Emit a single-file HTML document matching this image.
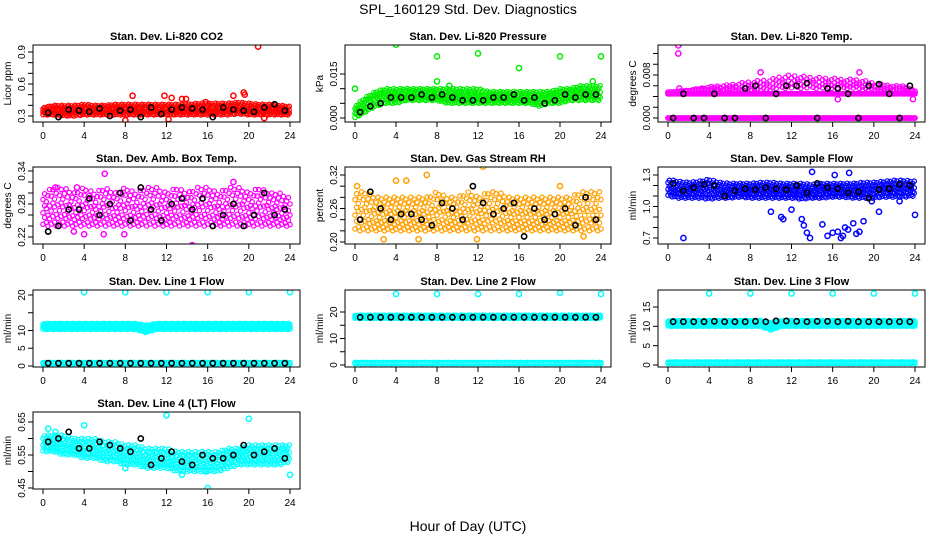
<!DOCTYPE html>
<html><head><meta charset="utf-8"><style>
html,body{margin:0;padding:0;background:#fff;}
svg{display:block;font-family:"Liberation Sans",Arial,sans-serif;}
</style></head><body>
<svg id="chart" width="936" height="540" viewBox="0 0 936 540" xmlns="http://www.w3.org/2000/svg">
<rect width="936" height="540" fill="#fff"/>
<text x="468" y="14" text-anchor="middle" font-size="14">SPL_160129  Std. Dev. Diagnostics</text>
<text x="468" y="531" text-anchor="middle" font-size="14">Hour of Day (UTC)</text>
</svg>
<script>
// ---------- data (hourly band lo/hi at hours 0..24, black samples at hour i+0.5) ----------
const xTicks = [0,4,8,12,16,20,24];

const co2Lo = [0.31,0.31,0.30,0.30,0.31,0.31,0.31,0.31,0.31,0.31,0.31,0.31,0.31,0.31,0.31,0.31,0.31,0.31,0.31,0.32,0.31,0.31,0.31,0.31,0.31];
const co2Hi = [0.38,0.40,0.40,0.40,0.41,0.40,0.40,0.41,0.41,0.41,0.41,0.41,0.41,0.41,0.41,0.42,0.42,0.42,0.42,0.43,0.42,0.41,0.41,0.40,0.39];
const co2Black = [0.33,0.29,0.36,0.35,0.34,0.37,0.30,0.35,0.36,0.29,0.38,0.32,0.36,0.38,0.37,0.36,0.29,0.38,0.36,0.35,0.34,0.38,0.41,0.35];
const co2OutH = [8.7,11.8,12.2,12.5,13.5,13.9,18.5,19.5,19.6,20.9,8.0,21.5,15.8];
const co2OutV = [0.49,0.49,0.27,0.47,0.46,0.46,0.49,0.52,0.50,0.95,0.26,0.28,0.43];

const presLo = [0.000,0.002,0.004,0.005,0.005,0.006,0.006,0.006,0.006,0.005,0.005,0.005,0.005,0.005,0.005,0.005,0.005,0.005,0.004,0.005,0.005,0.006,0.006,0.006,0.006];
const presHi = [0.004,0.007,0.009,0.010,0.010,0.010,0.010,0.010,0.010,0.010,0.010,0.010,0.010,0.009,0.009,0.009,0.009,0.009,0.009,0.009,0.010,0.010,0.011,0.011,0.011];
const presBlack = [0.002,0.004,0.005,0.007,0.007,0.007,0.008,0.007,0.008,0.007,0.006,0.006,0.006,0.007,0.007,0.008,0.006,0.007,0.005,0.006,0.008,0.007,0.008,0.008];
const presOutH = [0,4,8,12,16,20,24,8,23.2,9.2];
const presOutV = [0.010,0.025,0.021,0.022,0.017,0.021,0.021,0.0125,0.0125,0.011];

const tmpLo = [0.0045,0.0045,0.0045,0.0045,0.0045,0.0045,0.0045,0.0045,0.0045,0.0045,0.0045,0.0045,0.0045,0.0045,0.0045,0.0045,0.0045,0.0045,0.0045,0.0045,0.0045,0.0045,0.0045,0.0045,0.0045];
const tmpHi = [0.0045,0.0045,0.0045,0.0045,0.0045,0.0045,0.0045,0.0045,0.0045,0.0045,0.0045,0.0045,0.0045,0.0045,0.0045,0.0045,0.0045,0.0045,0.0045,0.0045,0.0045,0.0045,0.0045,0.0045,0.0045];
const tmpUpLo = [0.0048,0.0048,0.0048,0.0050,0.0050,0.0050,0.0050,0.0050,0.0050,0.0050,0.0052,0.0055,0.0055,0.0055,0.0055,0.0055,0.0055,0.0055,0.0055,0.0052,0.0050,0.0050,0.0050,0.0050,0.0048];
const tmpUpHi = [0.0048,0.0050,0.0052,0.0055,0.0058,0.0060,0.0062,0.0065,0.0068,0.0070,0.0072,0.0078,0.0080,0.0078,0.0076,0.0075,0.0074,0.0072,0.0072,0.0070,0.0065,0.0062,0.0060,0.0060,0.0050];
const tmpZeroLo = [0,0,0,0,0,0,0,0,0,0,0,0,0,0,0,0,0,0,0,0,0,0,0,0,0];
const tmpZeroHi = [0,0,0,0,0,0,0,0,0,0,0,0,0,0,0,0,0,0,0,0,0,0,0,0,0];
const tmpBlack = [0.0000,0.0045,0.0000,0.0000,0.0045,0.0000,0.0000,0.0055,0.0060,0.0000,0.0045,0.0060,0.0060,0.0065,0.0000,0.0055,0.0055,0.0045,0.0000,0.0060,0.0063,0.0045,0.0000,0.0060];
const tmpOutH = [1.0,1.0,1.0,1.1,16.5,23.8,9.0,18.6];
const tmpOutV = [0.0145,0.0135,0.0120,0.0055,0.0035,0.0035,0.0085,0.0085];

const ambLo = [0.24,0.24,0.24,0.24,0.24,0.24,0.24,0.24,0.24,0.24,0.24,0.24,0.24,0.24,0.24,0.24,0.24,0.24,0.24,0.24,0.24,0.24,0.24,0.24,0.24];
const ambHi = [0.30,0.31,0.31,0.30,0.31,0.30,0.31,0.30,0.31,0.30,0.31,0.31,0.30,0.31,0.30,0.31,0.31,0.30,0.31,0.31,0.30,0.31,0.30,0.30,0.29];
const ambBlack = [0.23,0.24,0.27,0.27,0.29,0.26,0.28,0.30,0.25,0.31,0.27,0.25,0.28,0.29,0.27,0.29,0.24,0.26,0.28,0.24,0.26,0.30,0.26,0.27];
const ambOutH = [6.0,14.5,18.5,0.5,4.0,7.9,1.2,3.3,5.9,3.0];
const ambOutV = [0.335,0.205,0.32,0.23,0.225,0.225,0.31,0.31,0.225,0.23];

const rhLo = [0.22,0.22,0.22,0.22,0.22,0.22,0.22,0.22,0.22,0.22,0.22,0.22,0.22,0.22,0.22,0.22,0.22,0.22,0.22,0.22,0.22,0.22,0.22,0.22,0.22];
const rhHi = [0.29,0.29,0.28,0.28,0.28,0.28,0.28,0.28,0.29,0.28,0.28,0.29,0.28,0.29,0.29,0.28,0.28,0.28,0.28,0.28,0.28,0.28,0.29,0.29,0.29];
const rhBlack = [0.24,0.29,0.26,0.24,0.25,0.25,0.24,0.23,0.27,0.26,0.24,0.30,0.27,0.25,0.26,0.27,0.21,0.26,0.24,0.25,0.26,0.23,0.28,0.24];
const rhOutH = [12.5,7.0,4.0,5.0,20.0,0.2,2.8,6.2,11.9,22.3];
const rhOutV = [0.335,0.32,0.31,0.31,0.30,0.30,0.205,0.205,0.205,0.21];

const flowLo = [1.10,1.08,1.08,1.08,1.07,1.08,1.08,1.09,1.08,1.08,1.08,1.08,1.08,1.07,1.08,1.08,1.09,1.09,1.08,1.08,1.08,1.09,1.09,1.09,1.10];
const flowHi = [1.26,1.24,1.23,1.24,1.26,1.23,1.22,1.22,1.22,1.23,1.23,1.22,1.22,1.22,1.21,1.22,1.22,1.22,1.22,1.23,1.23,1.24,1.25,1.25,1.24];
const flowBlack = [1.22,1.15,1.18,1.21,1.20,1.10,1.15,1.17,1.16,1.18,1.17,1.16,1.20,1.13,1.22,1.18,1.17,1.13,1.14,1.08,1.16,1.17,1.21,1.20];
const flowOutH = [1.5,10.0,11.0,11.2,12.0,13.0,13.2,14.0,15.0,15.5,16.0,16.5,17.0,17.2,17.5,18.0,18.3,18.6,19.0,13.5,13.8,16.8,17.6,19.8,20.5,22.5,24.0,16.2];
const flowOutV = [0.70,0.95,0.90,0.88,0.97,0.88,0.82,1.33,0.83,0.72,0.75,0.76,0.72,0.80,0.78,0.84,0.74,0.76,0.86,0.75,0.70,0.70,1.32,1.05,0.95,1.05,0.92,1.30];

const l1Lo = [10.3,10.3,10.3,10.3,10.3,10.3,10.3,10.3,10.3,10.3,9.4,10.3,10.3,10.3,10.3,10.3,10.3,10.3,10.3,10.3,10.3,10.3,10.3,10.3,10.3];
const l1Hi = [12.0,12.0,12.0,12.0,12.0,12.0,12.0,12.0,12.0,12.0,11.5,12.0,12.0,12.0,12.0,12.0,12.0,12.0,12.0,12.0,12.0,12.0,12.0,12.0,12.0];
const l1LowLo = [0.6,0.6,0.6,0.6,0.6,0.6,0.6,0.6,0.6,0.6,0.6,0.6,0.6,0.6,0.6,0.6,0.6,0.6,0.6,0.6,0.6,0.6,0.6,0.6,0.6];
const l1LowHi = [1.0,1.0,1.0,1.0,1.0,1.0,1.0,1.0,1.0,1.0,1.0,1.0,1.0,1.0,1.0,1.0,1.0,1.0,1.0,1.0,1.0,1.0,1.0,1.0,1.0];
const l1Black = [0.8,0.8,0.8,0.8,0.8,0.8,0.8,0.8,0.8,0.8,0.8,0.8,0.8,0.8,0.8,0.8,0.8,0.8,0.8,0.8,0.8,0.8,0.8,0.8];
const l1OutH = [4,8,12,16,20,24];
const l1OutV = [20.8,20.8,20.8,20.8,20.8,20.8];

const l2Lo = [17.6,17.6,17.6,17.6,17.6,17.6,17.6,17.6,17.6,17.6,17.6,17.6,17.6,17.6,17.6,17.6,17.6,17.6,17.6,17.6,17.6,17.6,17.6,17.6,17.6];
const l2Hi = [18.8,18.8,18.8,18.8,18.8,18.8,18.8,18.8,18.8,18.8,18.8,18.8,18.8,18.8,18.8,18.8,18.8,18.8,18.8,18.8,18.8,18.8,18.8,18.8,18.8];
const l2LowLo = [0.5,0.5,0.5,0.5,0.5,0.5,0.5,0.5,0.5,0.5,0.5,0.5,0.5,0.5,0.5,0.5,0.5,0.5,0.5,0.5,0.5,0.5,0.5,0.5,0.5];
const l2LowHi = [1.0,1.0,1.0,1.0,1.0,1.0,1.0,1.0,1.0,1.0,1.0,1.0,1.0,1.0,1.0,1.0,1.0,1.0,1.0,1.0,1.0,1.0,1.0,1.0,1.0];
const l2Black = [18.0,18.0,18.0,18.0,18.0,18.0,18.0,18.0,18.0,18.0,18.0,18.0,18.0,18.0,18.0,18.0,18.0,18.0,18.0,18.0,18.0,18.0,18.0,18.0];
const l2OutH = [4,8,12,16,20,24];
const l2OutV = [26.8,26.8,26.8,26.8,27.2,26.8];

const l3Lo = [10.0,10.0,10.0,10.0,10.0,10.0,10.0,10.0,10.0,10.0,9.0,10.0,10.0,10.0,10.0,10.0,10.0,10.0,10.0,10.0,10.0,10.0,10.0,10.0,10.0];
const l3Hi = [11.5,11.5,11.5,11.5,11.5,11.5,11.5,11.5,11.5,11.5,11.0,11.5,11.5,11.5,11.5,11.5,11.5,11.5,11.5,11.5,11.5,11.5,11.5,11.5,11.5];
const l3LowLo = [0.4,0.4,0.4,0.4,0.4,0.4,0.4,0.4,0.4,0.4,0.4,0.4,0.4,0.4,0.4,0.4,0.4,0.4,0.4,0.4,0.4,0.4,0.4,0.4,0.4];
const l3LowHi = [0.8,0.8,0.8,0.8,0.8,0.8,0.8,0.8,0.8,0.8,0.8,0.8,0.8,0.8,0.8,0.8,0.8,0.8,0.8,0.8,0.8,0.8,0.8,0.8,0.8];
const l3Black = [11.2,11.2,11.2,11.2,11.3,11.2,11.2,11.2,11.3,11.2,11.4,11.4,11.3,11.2,11.3,11.3,11.2,11.3,11.2,11.2,11.2,11.2,11.2,11.2];
const l3OutH = [4,8,12,16,20,24];
const l3OutV = [18.5,18.5,18.5,18.5,18.5,18.5];

const l4Lo = [0.56,0.56,0.55,0.55,0.54,0.54,0.53,0.53,0.52,0.52,0.51,0.51,0.51,0.50,0.50,0.50,0.50,0.50,0.51,0.52,0.52,0.52,0.52,0.52,0.53];
const l4Hi = [0.61,0.61,0.61,0.60,0.60,0.60,0.59,0.59,0.58,0.58,0.57,0.57,0.57,0.56,0.56,0.56,0.56,0.56,0.57,0.57,0.58,0.58,0.58,0.58,0.58];
const l4Black = [0.59,0.60,0.62,0.57,0.57,0.59,0.58,0.57,0.56,0.60,0.52,0.54,0.56,0.53,0.52,0.55,0.54,0.54,0.55,0.58,0.55,0.56,0.57,0.54];
const l4OutH = [12,20,16,24,4,0.5,1.2,8.0,15.8,13.5];
const l4OutV = [0.67,0.66,0.45,0.49,0.64,0.63,0.62,0.51,0.50,0.49];

// ---------- layout ----------
const colX = [[43,290],[355,601],[668,915]];
const rowY = [45,167,290,412];
const boxH = 77;
const svg = document.getElementById('chart');
const NS = 'http://www.w3.org/2000/svg';
function mk(tag, attrs, parent){const e=document.createElementNS(NS,tag);for(const k in attrs)e.setAttribute(k,attrs[k]);(parent||svg).appendChild(e);return e;}

const panels = [
 {name:'co2',title:'Stan. Dev. Li-820 CO2',ylab:'Licor ppm',r:0,c:0,yMin:0.3,yMax:0.9,yPixMin:116,yPixMax:52,ticks:[0.3,0.4,0.5,0.6,0.7,0.8,0.9],labels:['0.3',null,null,'0.6',null,null,'0.9'],color:'#ff0000',bands:[[co2Lo,co2Hi,0.13]],black:co2Black,outH:co2OutH,outV:co2OutV},
 {name:'pressure',title:'Stan. Dev. Li-820 Pressure',ylab:'kPa',r:0,c:1,yMin:0,yMax:0.015,yPixMin:118,yPixMax:74,ticks:[0,0.005,0.01,0.015],labels:['0.000',null,null,'0.015'],color:'#00ee00',bands:[[presLo,presHi,0.13]],black:presBlack,outH:presOutH,outV:presOutV},
 {name:'li820-temp',title:'Stan. Dev. Li-820 Temp.',ylab:'degrees C',r:0,c:2,yMin:0,yMax:0.008,yPixMin:118,yPixMax:75,ticks:[0,0.002,0.004,0.006,0.008,0.010,0.012,0.014],labels:['0.000',null,null,null,'0.008',null,null,null],color:'#ff00ff',bands:[[tmpLo,tmpHi,0.15],[tmpUpLo,tmpUpHi,0.3],[tmpZeroLo,tmpZeroHi,0.15]],black:tmpBlack,outH:tmpOutH,outV:tmpOutV},
 {name:'amb-box-temp',title:'Stan. Dev. Amb. Box Temp.',ylab:'degrees C',r:1,c:0,yMin:0.22,yMax:0.34,yPixMin:237,yPixMax:171,ticks:[0.22,0.24,0.26,0.28,0.30,0.32,0.34],labels:['0.22',null,null,'0.28',null,null,'0.34'],color:'#ff00ff',bands:[[ambLo,ambHi,0.16]],black:ambBlack,outH:ambOutH,outV:ambOutV},
 {name:'gas-stream-rh',title:'Stan. Dev. Gas Stream RH',ylab:'percent',r:1,c:1,yMin:0.20,yMax:0.32,yPixMin:242,yPixMax:175,ticks:[0.20,0.22,0.24,0.26,0.28,0.30,0.32],labels:['0.20',null,null,'0.26',null,null,'0.32'],color:'#ffa000',bands:[[rhLo,rhHi,0.16]],black:rhBlack,outH:rhOutH,outV:rhOutV},
 {name:'sample-flow',title:'Stan. Dev. Sample Flow',ylab:'ml/min',r:1,c:2,yMin:0.7,yMax:1.3,yPixMin:238,yPixMax:175,ticks:[0.7,0.8,0.9,1.0,1.1,1.2,1.3],labels:['0.7',null,null,'1.0',null,null,'1.3'],color:'#0000ff',bands:[[flowLo,flowHi,0.13]],black:flowBlack,outH:flowOutH,outV:flowOutV},
 {name:'line1-flow',title:'Stan. Dev. Line 1 Flow',ylab:'ml/min',r:2,c:0,yMin:0,yMax:20,yPixMin:366,yPixMax:295,ticks:[0,5,10,15,20],labels:['0','5','10',null,'20'],color:'#00ffff',bands:[[l1Lo,l1Hi,0.12],[l1LowLo,l1LowHi,0.2]],black:l1Black,outH:l1OutH,outV:l1OutV},
 {name:'line2-flow',title:'Stan. Dev. Line 2 Flow',ylab:'ml/min',r:2,c:1,yMin:0,yMax:20,yPixMin:365,yPixMax:312,ticks:[0,5,10,15,20],labels:['0',null,'10',null,'20'],color:'#00ffff',bands:[[l2Lo,l2Hi,0.14],[l2LowLo,l2LowHi,0.2]],black:l2Black,outH:l2OutH,outV:l2OutV},
 {name:'line3-flow',title:'Stan. Dev. Line 3 Flow',ylab:'ml/min',r:2,c:2,yMin:0,yMax:15,yPixMin:365,yPixMax:307,ticks:[0,5,10,15],labels:['0','5','10','15'],color:'#00ffff',bands:[[l3Lo,l3Hi,0.12],[l3LowLo,l3LowHi,0.2]],black:l3Black,outH:l3OutH,outV:l3OutV},
 {name:'line4-flow',title:'Stan. Dev. Line 4 (LT) Flow',ylab:'ml/min',r:3,c:0,yMin:0.45,yMax:0.65,yPixMin:488,yPixMax:422,ticks:[0.45,0.50,0.55,0.60,0.65],labels:['0.45',null,'0.55',null,'0.65'],color:'#00ffff',bands:[[l4Lo,l4Hi,0.13]],black:l4Black,outH:l4OutH,outV:l4OutV}
];

const levelPat = [[0.05,0.4,0.8],[0.25,0.6,0.95],[0.1,0.5,0.7],[0.0,0.3,0.85],[0.2,0.55,1.0]];

panels.forEach(p=>{
  const x0=colX[p.c][0], x24=colX[p.c][1];
  const left=x0-10, right=x24+10, top=rowY[p.r], bot=top+boxH;
  const xs=h=>x0+(x24-x0)*h/24;
  const ys=v=>p.yPixMin+(v-p.yMin)*(p.yPixMax-p.yPixMin)/(p.yMax-p.yMin);
  const g=mk('g',{});
  
  
  const t=mk('text',{x:(left+right)/2,y:top-5,'text-anchor':'middle','font-size':'11','font-weight':'bold'},g);
  
  
  t.textContent=p.title;
  const yl=mk('text',{x:0,y:0,'text-anchor':'middle','font-size':'10',transform:`translate(${left-22},${(top+bot)/2}) rotate(-90)`},g);
  
  
  yl.textContent=p.ylab;
  const clipId='clip-'+p.name;
  const cp=mk('clipPath',{id:clipId},g);
  mk('rect',{x:left,y:top,width:right-left,height:boxH},cp);
  const marks=mk('g',{'clip-path':`url(#${clipId})`},g);
  
  
  p.bands.forEach(([lo,hi,stp])=>{
    let step=0;
    for(let h=0;h<=24.001;h+=stp){
      const i=Math.min(23,Math.floor(h)), f=h-i;
      const l=lo[i]+(lo[i+1]-lo[i])*f, u=hi[i]+(hi[i+1]-hi[i])*f;
      const pat=levelPat[step%5];
      pat.forEach(fr=>{
        const v=l+(u-l)*fr;
        const c=mk('circle',{cx:xs(h).toFixed(1),cy:ys(v).toFixed(1),r:2.2,fill:'none',stroke:p.color,'stroke-width':1.2},marks);
        
        
      });
      step++;
    }
  });
  p.outH.forEach((h,i)=>{
    const c=mk('circle',{cx:xs(h),cy:ys(p.outV[i]),r:2.6,fill:'none',stroke:p.color,'stroke-width':1.5},marks);
    
    
  });
  p.black.forEach((v,i)=>{
    const c=mk('circle',{cx:xs(i+0.5),cy:ys(v),r:2.6,fill:'none',stroke:'#000','stroke-width':1.6},marks);
    
    
  });
  const b=mk('rect',{x:left,y:top,width:right-left,height:boxH,fill:'none',stroke:'#000','stroke-width':1},g);
  
  
  xTicks.forEach(h=>{
    mk('line',{x1:xs(h),x2:xs(h),y1:bot,y2:bot+5,stroke:'#000'},g);
    const tl=mk('text',{x:xs(h),y:bot+17,'text-anchor':'middle','font-size':'10'},g);
    
    
    tl.textContent=h;
  });
  p.ticks.forEach((v,i)=>{
    const y=ys(v); if(y<top-1) return;
    mk('line',{x1:left-5,x2:left,y1:y,y2:y,stroke:'#000'},g);
    if(p.labels[i]!==null){
      const tl=mk('text',{x:0,y:0,'text-anchor':'middle','font-size':'10',transform:`translate(${left-8},${y}) rotate(-90)`},g);
      
      
      tl.textContent=p.labels[i];
    }
  });
});
</script>
</body></html>
